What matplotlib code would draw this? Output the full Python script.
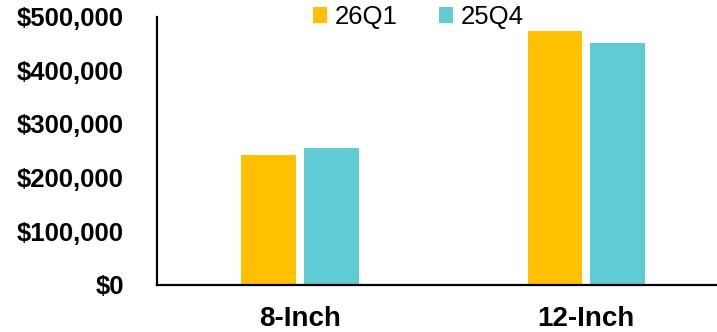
import matplotlib.pyplot as plt
import numpy as np
from matplotlib.ticker import FuncFormatter

# valores
categories = ["8-Inch", "12-Inch"]
series_names = ["26Q1", "25Q4"]
values_26q1 = [242000, 474000]
values_25q4 = [256000, 450000]
colors = ["#FFC000", "#60CBD3"]
yticks = [0, 100000, 200000, 300000, 400000, 500000]

plt.rcParams["font.family"] = ["Liberation Sans", "DejaVu Sans"]

fig = plt.figure(figsize=(7.17, 3.32), dpi=100)
ax = fig.add_axes([0.219, 0.1416, 0.798, 0.8084])

x = np.arange(len(categories))
width = 0.19
offset = 0.11
ax.bar(x - offset, values_26q1, width, color=colors[0], label=series_names[0])
ax.bar(x + offset, values_25q4, width, color=colors[1], label=series_names[1])

ax.set_xlim(-0.5, 1.5)
ax.set_ylim(0, 500000)
ax.set_yticks(yticks)
ax.yaxis.set_major_formatter(FuncFormatter(lambda v, p: f"${v:,.0f}"))
ax.set_xticks(x)
ax.set_xticklabels(categories)

ax.tick_params(axis="y", length=0, pad=24, labelsize=18.5)
ax.tick_params(axis="x", length=0, pad=15, labelsize=20)
for lbl in ax.get_yticklabels() + ax.get_xticklabels():
    lbl.set_fontweight("bold")

for side in ["top", "right"]:
    ax.spines[side].set_visible(False)
for side in ["left", "bottom"]:
    ax.spines[side].set_linewidth(1.6)
    ax.spines[side].set_color("black")

fig.legend(
    loc="center",
    bbox_to_anchor=(0.583, 0.948),
    ncol=2,
    frameon=False,
    fontsize=18.5,
    handlelength=0.55,
    handleheight=0.55,
    handletextpad=0.3,
    columnspacing=1.6,
)

fig.savefig("out.png", dpi=100)
